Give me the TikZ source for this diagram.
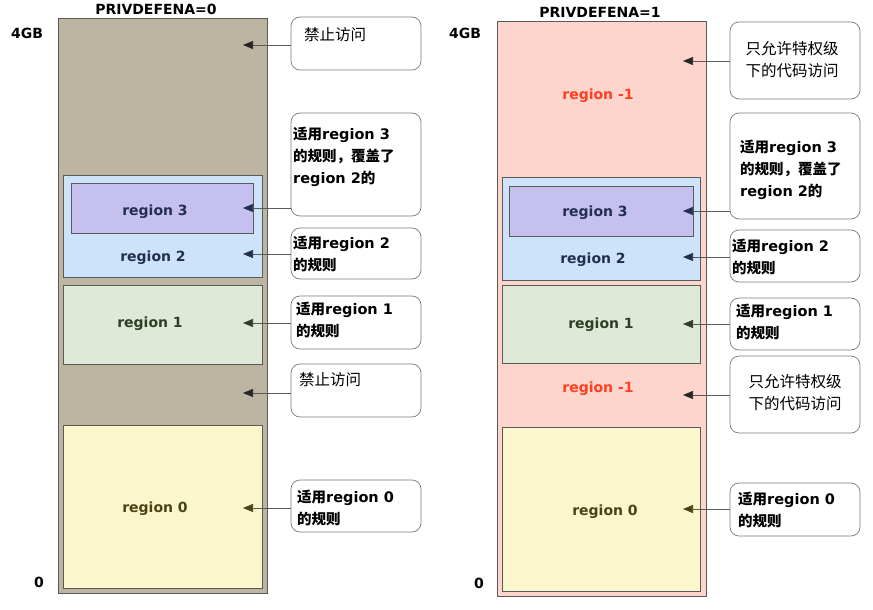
\documentclass[tikz,border=0pt]{standalone}
\usepackage{fontspec}
\setmainfont{DejaVu Sans}
\newfontfamily\cjk{Noto Sans CJK SC}
\usetikzlibrary{arrows.meta}
\definecolor{tanbg}{HTML}{BDB5A1}
\definecolor{pinkbg}{HTML}{FDD5CC}
\definecolor{rtwo}{HTML}{CCE3F9}
\definecolor{rthree}{HTML}{C5C0EE}
\definecolor{rone}{HTML}{DEE9D6}
\definecolor{rzero}{HTML}{FCF6CC}
\definecolor{redtxt}{HTML}{FF3F1F}
\definecolor{navy}{HTML}{232E50}
\definecolor{dgreen}{HTML}{2F3E26}
\definecolor{olive}{HTML}{4A4414}
\definecolor{edge}{HTML}{5A5A5A}
\newcommand\zh[1]{{\cjk #1}}
\newcommand\zhb[1]{{\cjk\bfseries #1}}
\newcommand\rgb[1]{\textbf{#1}}
\begin{document}
\begin{tikzpicture}[x=1pt,y=-1pt,
  outer/.style={draw=edge,line width=0.8pt,inner sep=0pt,outer sep=0pt,anchor=north west},
  rbox/.style={draw=edge,line width=0.7pt,inner sep=0pt,outer sep=0pt,anchor=north west},
  cbox/.style={draw=edge!80,line width=0.7pt,fill=white,rounded corners=9pt,inner sep=0pt,outer sep=0pt,minimum width=130pt},
  rtext/.style={font=\fontsize{14}{16}\selectfont\bfseries,inner sep=0pt},
  lbl/.style={font=\fontsize{14}{16}\selectfont\bfseries,inner sep=0pt},
  ctext/.style={font=\fontsize{14.5}{22}\selectfont,align=left,anchor=west,inner sep=0pt},
  ctextr/.style={font=\fontsize{15.5}{22}\selectfont,align=left,anchor=west,inner sep=0pt},
  ctextc/.style={font=\fontsize{15.5}{22}\selectfont,align=center,inner sep=0pt},
  con/.style={draw=edge,line width=0.6pt},
  tip/.style={-{Triangle[length=10pt,width=8pt,color=#1]}}
]
\useasboundingbox (0,0) rectangle (873,610);
\fill[white] (0,0) rectangle (873,610);

% ---------------- left panel ----------------
\node[lbl] (ltitle) at (156,9) {PRIVDEFENA=0};
\node[outer,fill=tanbg,minimum width=209pt,minimum height=575pt] (Lout) at (58,18) {};
\node[lbl] (l4gb) at (27,33) {4GB};
\node[lbl] (l0) at (39,582) {0};

\node[rbox,fill=rtwo,minimum width=199pt,minimum height=102pt] (L2) at (63,175) {};
\node[rbox,fill=rthree,minimum width=182pt,minimum height=50pt] (L3) at (71,183) {};
\node[rbox,fill=rone,minimum width=199pt,minimum height=79pt] (L1) at (63,285) {};
\node[rbox,fill=rzero,minimum width=199pt,minimum height=163pt] (L0) at (63,425) {};
\node[rtext,text=navy] (L3t) at (155,212) {region 3};
\node[rtext,text=navy] (L2t) at (153,258) {region 2};
\node[rtext,text=dgreen] (L1t) at (150,324) {region 1};
\node[rtext,text=olive] (L0t) at (155,509) {region 0};

\node[cbox,minimum height=53pt] (c1) at (356,43.5) {};
\node[cbox,minimum height=103pt] (c2) at (356,164.5) {};
\node[cbox,minimum height=51pt] (c3) at (356,253.5) {};
\node[cbox,minimum height=53pt] (c4) at (356,322.5) {};
\node[cbox,minimum height=53pt] (c5) at (356,390.5) {};
\node[cbox,minimum height=52pt] (c6) at (356,506) {};

\node[ctextr] (c1t) at (304,35) {\zh{禁止访问}};
\node[ctext] (c2t) at (293,157) {\zhb{适用}\rgb{region 3}\\\zhb{的规则，覆盖了}\\\rgb{region 2}\zhb{的}};
\node[ctext] (c3t) at (293,254) {\zhb{适用}\rgb{region 2}\\\zhb{的规则}};
\node[ctext] (c4t) at (296,320) {\zhb{适用}\rgb{region 1}\\\zhb{的规则}};
\node[ctextr] (c5t) at (299,380) {\zh{禁止访问}};
\node[ctext] (c6t) at (297,508) {\zhb{适用}\rgb{region 0}\\\zhb{的规则}};

\coordinate (a1) at (243,45);
\coordinate (a2) at (243,208);
\coordinate (a3) at (243,254);
\coordinate (a4) at (243,323);
\coordinate (a5) at (243,393);
\coordinate (a6) at (243,508);
\draw[con,tip=black!85] (c1.west |- a1) -- (a1);
\draw[con,tip=navy] (c2.west |- a2) -- (a2);
\draw[con,tip=navy] (c3.west |- a3) -- (a3);
\draw[con,tip=dgreen] (c4.west |- a4) -- (a4);
\draw[con,tip=black!85] (c5.west |- a5) -- (a5);
\draw[con,tip=olive] (c6.west |- a6) -- (a6);

% ---------------- right panel ----------------
\node[lbl] (rtitle) at (600,12) {PRIVDEFENA=1};
\node[outer,fill=pinkbg,minimum width=209pt,minimum height=575pt] (Rout) at (497,21) {};
\node[lbl] (r4gb) at (465,33) {4GB};
\node[lbl] (r0) at (479,583) {0};

\node[rbox,fill=rtwo,minimum width=198pt,minimum height=103pt] (R2) at (502,177) {};
\node[rbox,fill=rthree,minimum width=184pt,minimum height=50pt] (R3) at (509,186) {};
\node[rbox,fill=rone,minimum width=198pt,minimum height=78pt] (R1) at (502,285) {};
\node[rbox,fill=rzero,minimum width=198pt,minimum height=164pt] (R0) at (502,427) {};
\node[rtext,text=redtxt] (Rm1a) at (598,96) {region -1};
\node[rtext,text=redtxt] (Rm1b) at (598,389) {region -1};
\node[rtext,text=navy] (R3t) at (595,213) {region 3};
\node[rtext,text=navy] (R2t) at (593,260) {region 2};
\node[rtext,text=dgreen] (R1t) at (601,325) {region 1};
\node[rtext,text=olive] (R0t) at (605,512) {region 0};

\node[cbox,minimum height=77pt] (d1) at (795,60.5) {};
\node[cbox,minimum height=106pt] (d2) at (795,166) {};
\node[cbox,minimum height=52pt] (d3) at (795,256) {};
\node[cbox,minimum height=52pt] (d4) at (795,324) {};
\node[cbox,minimum height=77pt] (d5) at (795,394.5) {};
\node[cbox,minimum height=53pt] (d6) at (795,509.5) {};

\node[ctextc] (d1t) at (792,60) {\zh{只允许特权级}\\\zh{下的代码访问}};
\node[ctext] (d2t) at (740,170) {\zhb{适用}\rgb{region 3}\\\zhb{的规则，覆盖了}\\\rgb{region 2}\zhb{的}};
\node[ctext] (d3t) at (732,257) {\zhb{适用}\rgb{region 2}\\\zhb{的规则}};
\node[ctext] (d4t) at (736,322) {\zhb{适用}\rgb{region 1}\\\zhb{的规则}};
\node[ctextc] (d5t) at (795,393) {\zh{只允许特权级}\\\zh{下的代码访问}};
\node[ctext] (d6t) at (738,510) {\zhb{适用}\rgb{region 0}\\\zhb{的规则}};

\coordinate (b1) at (683,61);
\coordinate (b2) at (683,211);
\coordinate (b3) at (683,257);
\coordinate (b4) at (683,324);
\coordinate (b5) at (683,395);
\coordinate (b6) at (683,509);
\draw[con,tip=black!85] (d1.west |- b1) -- (b1);
\draw[con,tip=navy] (d2.west |- b2) -- (b2);
\draw[con,tip=navy] (d3.west |- b3) -- (b3);
\draw[con,tip=dgreen] (d4.west |- b4) -- (b4);
\draw[con,tip=black!85] (d5.west |- b5) -- (b5);
\draw[con,tip=olive] (d6.west |- b6) -- (b6);
\end{tikzpicture}
\end{document}
